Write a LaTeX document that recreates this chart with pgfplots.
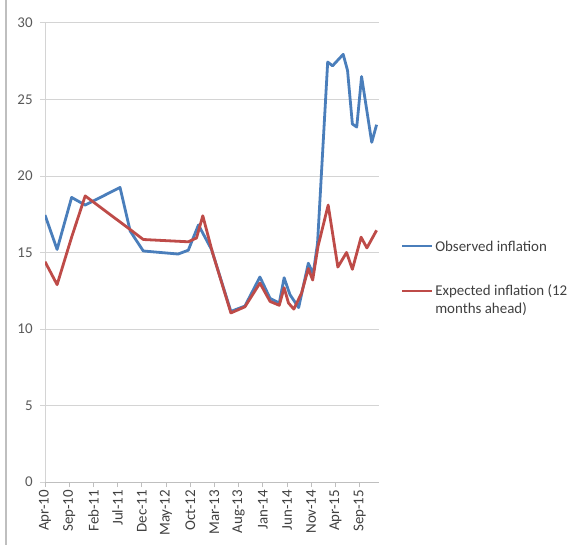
\documentclass[border=0pt]{standalone}
\usepackage{fontspec}
\setmainfont{Carlito}
\usepackage{pgfplots}
\pgfplotsset{compat=1.18}

\definecolor{obsblue}{HTML}{4A7EBB}
\definecolor{expred}{HTML}{BE4B48}
\definecolor{gridgray}{HTML}{D4D4D4}
\definecolor{axisgray}{HTML}{BFBFBF}
\definecolor{labelgray}{HTML}{595959}
\definecolor{textdark}{HTML}{404040}

% month index: 0 = Apr-10
\pgfplotstableread{
m     v
0     17.45
2.5   15.2
5.5   18.6
8.3   18.1
15.5  19.25
17.6  16.4
20.3  15.1
27.5  14.9
29.6  15.15
31.7  16.8
34.4  15.2
38.4  11.15
41.3  11.5
44.4  13.4
46.5  12.0
48.4  11.7
49.4  13.35
50.6  12.25
52.4  11.4
54.4  14.3
55.4  13.6
56.3  15.6
58.4  27.45
59.4  27.2
61.6  27.95
62.5  26.9
63.5  23.4
64.4  23.2
65.4  26.5
67.5  22.2
68.5  23.35
}\observed

\pgfplotstableread{
m     v
0     14.4
2.5   12.9
5.5   16.0
8.3   18.7
17.6  16.5
20.3  15.85
29.6  15.7
31.3  15.95
32.6  17.4
34.6  15.0
38.4  11.05
41.3  11.45
44.4  13.0
46.5  11.8
48.4  11.55
49.4  12.7
50.3  11.7
51.4  11.3
53.0  12.35
54.4  13.95
55.3  13.2
56.4  15.4
58.5  18.1
60.5  14.05
62.3  15.0
63.5  13.9
65.3  16.0
66.5  15.3
68.5  16.45
}\expected

\newcommand\chartfont{\fontsize{11.2}{13}\selectfont}

\begin{document}
\begin{tikzpicture}[x=0.75pt,y=-0.75pt]
\path[use as bounding box] (0,0) rectangle (580,545);
\draw[axisgray, line width=0.9pt] (6,0) -- (6,545);
\coordinate (o) at (45,482);
\begin{axis}[
  at={(o)}, anchor=south west,
  scale only axis,
  width=250.5pt, height=344.25pt,
  xmin=0, xmax=69, ymin=0, ymax=30,
  xtick={0,5,...,65},
  xticklabels={Apr-10,Sep-10,Feb-11,Jul-11,Dec-11,May-12,Oct-12,Mar-13,Aug-13,Jan-14,Jun-14,Nov-14,Apr-15,Sep-15},
  ytick={0,5,...,30},
  ymajorgrids,
  grid style={gridgray, line width=0.75pt},
  axis x line*=bottom, axis y line*=left,
  x axis line style={-, axisgray, line width=0.75pt},
  y axis line style={-, gridgray, line width=0.75pt},
  tick align=outside,
  major tick length=3.75pt,
  xtick style={axisgray, line width=0.75pt},
  ytick style={gridgray, line width=0.75pt},
  /pgf/number format/assume math mode=true,
  xticklabel style={rotate=90, anchor=east, font=\chartfont, textdark, inner sep=2pt},
  yticklabel style={font=\chartfont, labelgray, xshift=-2pt},
  line join=round,
]
\addplot[obsblue, line width=2.1pt, no markers] table[x=m, y=v] {\observed};
\addplot[expred, line width=2.1pt, no markers] table[x=m, y=v] {\expected};
\end{axis}
% legend
\draw[obsblue, line width=2.1pt] (402,246) -- (432,246);
\node[anchor=west, inner sep=0pt, textdark, font=\chartfont] at (435,246) {Observed inflation};
\draw[expred, line width=2.1pt] (402,291) -- (432,291);
\node[anchor=west, inner sep=0pt, textdark, font=\chartfont] at (435,291) {Expected inflation (12};
\node[anchor=west, inner sep=0pt, textdark, font=\chartfont] at (435,309) {months ahead)};
\end{tikzpicture}
\end{document}
